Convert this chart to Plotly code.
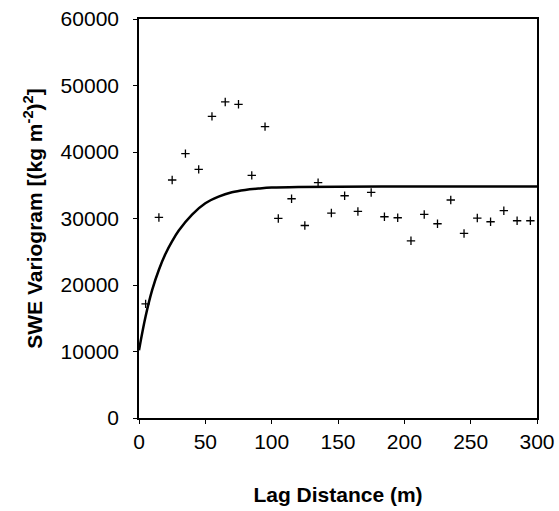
import plotly.graph_objects as go

# Experimental variogram (lag distance in m, semivariance in (kg m^-2)^2)
lag = [5, 15, 25, 35, 45, 55, 65, 75, 85, 95, 105, 115, 125, 135, 145,
       155, 165, 175, 185, 195, 205, 215, 225, 235, 245, 255, 265, 275, 285, 295]
gamma = [17160, 30160, 35790, 39750, 37380, 45360, 47530, 47170, 36480, 43810,
         30010, 32970, 28950, 35380, 30820, 33420, 31060, 33920, 30260, 30110,
         26650, 30610, 29210, 32780, 27750, 30070, 29510, 31170, 29660, 29660]

# Fitted model curve
model_lag = [0, 5, 10, 15, 20, 25, 30, 40, 50, 60, 70, 80, 90, 100, 120, 150, 200, 250, 300]
model_gamma = [10200, 15300, 19300, 22300, 24700, 26600, 28200, 30600, 32300, 33300,
               33950, 34300, 34500, 34650, 34750, 34780, 34800, 34800, 34800]

x_ticks = [0, 50, 100, 150, 200, 250, 300]
y_ticks = [0, 10000, 20000, 30000, 40000, 50000, 60000]

FONT = "Liberation Sans, Arial, sans-serif"

fig = go.Figure()
fig.add_trace(go.Scatter(
    x=model_lag, y=model_gamma, mode="lines",
    line=dict(color="black", width=2.5, shape="spline"),
    showlegend=False, hoverinfo="skip"))
fig.add_trace(go.Scatter(
    x=lag, y=gamma, mode="markers",
    marker=dict(symbol="cross-thin", size=6, line=dict(color="black", width=1.3)),
    showlegend=False))

axis_common = dict(
    showgrid=False, zeroline=False, showline=True, linecolor="black", linewidth=1.6,
    mirror=True, ticks="outside", ticklen=4, tickcolor="black", tickwidth=1.2,
    tickfont=dict(family=FONT, size=21, color="black"), automargin=False,
)

fig.update_layout(
    width=559, height=511,
    margin=dict(l=139, r=22, t=19, b=93),
    paper_bgcolor="white", plot_bgcolor="white",
    xaxis=dict(range=[0, 300], tickvals=x_ticks, ticktext=[str(v) for v in x_ticks],
               title=dict(text="<b>Lag Distance (m)</b>",
                          font=dict(family=FONT, size=21, color="black"), standoff=35),
               **axis_common),
    yaxis=dict(range=[0, 60000], tickvals=y_ticks, ticktext=[str(v) for v in y_ticks],
               ticklabelstandoff=10,
               title=dict(text="<b>SWE Variogram [(kg m<sup>-2</sup>)<sup>2</sup>]</b>",
                          font=dict(family=FONT, size=21, color="black"), standoff=12),
               **axis_common),
)

fig.write_html("out.html", config={"displayModeBar": False},
               post_script="document.body.style.margin='0px';")
